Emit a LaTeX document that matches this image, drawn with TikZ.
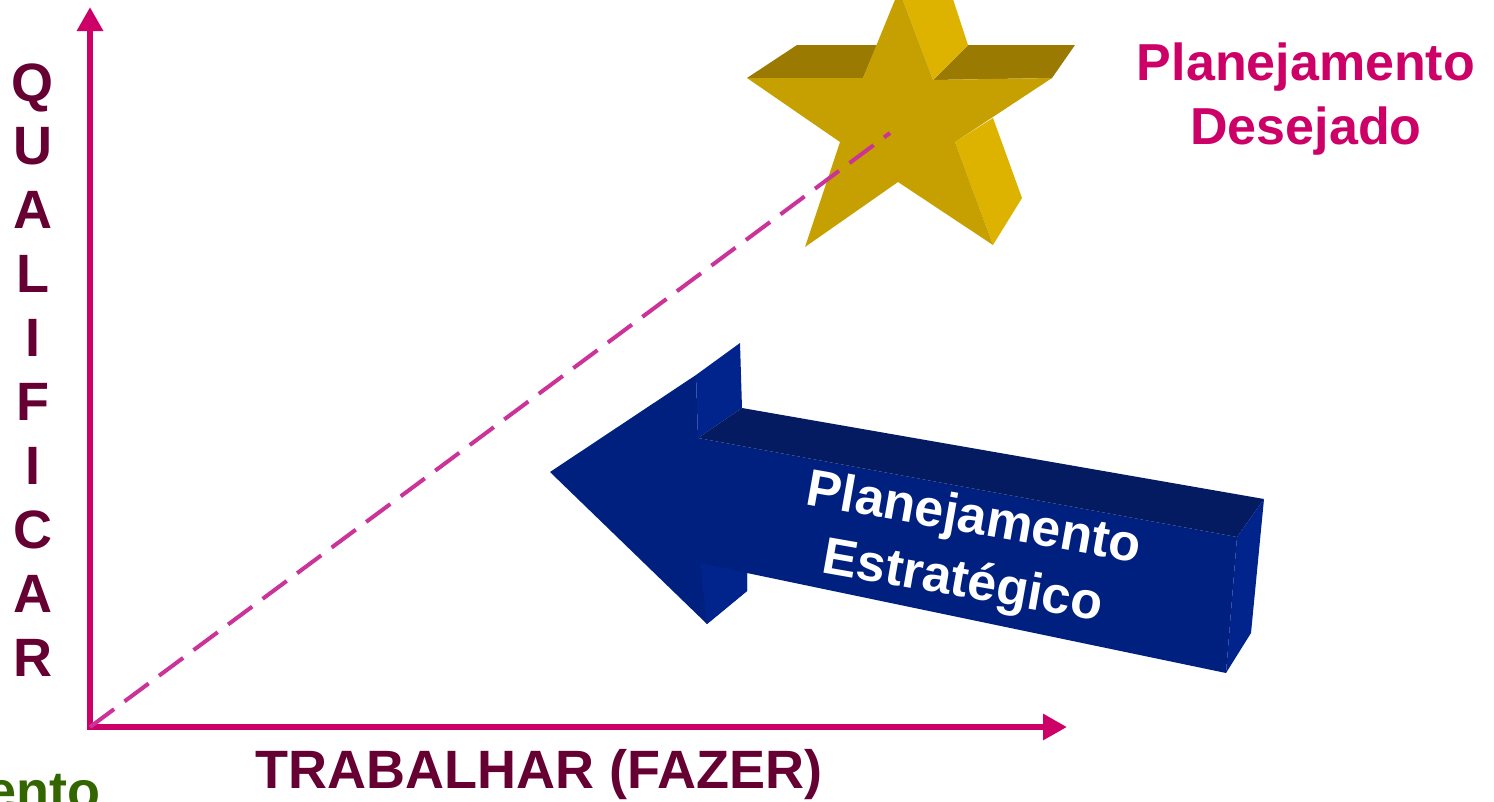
\documentclass[tikz,border=0pt]{standalone}
\usepackage{fontspec}
\setmainfont{Liberation Sans}
\usetikzlibrary{arrows.meta}
\definecolor{cEixo}{RGB}{204,0,102}
\definecolor{cTraco}{RGB}{204,51,153}
\definecolor{cVinho}{RGB}{102,0,51}
\definecolor{cVerde}{RGB}{51,102,0}
\definecolor{ouroFrente}{RGB}{197,160,0}
\definecolor{ouroTopo}{RGB}{154,122,0}
\definecolor{ouroLado}{RGB}{221,179,0}
\definecolor{azulFrente}{RGB}{0,32,128}
\definecolor{azulTopo}{RGB}{4,27,97}
\definecolor{azulLado}{RGB}{0,36,140}
\tikzset{
  eixo/.style={draw=cEixo, line width=6.5pt, line cap=rect, -{Triangle[length=24pt,width=25pt]}},
  diagonal/.style={draw=cTraco, line width=4pt, dash pattern=on 30pt off 13pt},
  letra/.style={text=cVinho, inner sep=0pt, anchor=base, font=\fontsize{54}{54}\selectfont\bfseries},
  rotulo/.style={inner sep=0pt, align=center, font=\fontsize{52}{64}\selectfont\bfseries},
}

\begin{document}
\begin{tikzpicture}[x=1pt,y=-1pt]
	\useasboundingbox (0,0) rectangle (1494,801);
	\clip (0,0) rectangle (1494,801);

	\coordinate (origem) at (90,727);
	\coordinate (topoy) at (90,7);
	\coordinate (fimx) at (1067,727);
	\coordinate (estrela) at (890,133);

	\fill[ouroTopo] (747,78) -- (797,45) -- (877,45) -- (863,78) -- cycle;
	\fill[ouroTopo] (933,80) -- (968,45) -- (1075,45) -- (1052,78) -- cycle;
	\fill[ouroLado] (899,-10) -- (950,-10) -- (968,45) -- (933,80) -- cycle;
	\fill[ouroLado] (955,142) -- (993,118) -- (1022,198) -- (993,245) -- cycle;
	\fill[ouroFrente] (899,-10) -- (933,80) -- (1052,78) -- (955,142) -- (993,245)
		-- (898,182) -- (805,247) -- (840,142) -- (747,78) -- (863,78) -- cycle;

	\draw[eixo] (origem) -- (topoy);
	\draw[eixo] (origem) -- (fimx);
	\draw[diagonal] (origem) -- (estrela);

	\fill[azulFrente] (550,472) -- (696,375) -- (698,438) -- (1237,537) -- (1226,673)
		-- (747,573) -- (747,591) -- (707,624) -- cycle;
	\fill[azulLado] (696,375) -- (740,343) -- (742,408) -- (698,438) -- cycle;
	\fill[azulLado] (700,563) -- (747,573) -- (747,591) -- (707,624) -- cycle;
	\fill[azulTopo] (698,438) -- (742,408) -- (1264,499) -- (1237,537) -- cycle;
	\fill[azulLado] (1237,537) -- (1264,499) -- (1251,633) -- (1226,673) -- cycle;

	\node[rotulo, text=white, rotate=-10] (estrategico) at (968,552) {Planejamento\\Estratégico};
	\node[rotulo, text=cEixo, anchor=north] (desejado) at (1306,43) {Planejamento\\Desejado};

	\foreach \l [count=\i] in {Q,U,A,L,I,F,I,C,A,R}
		\node[letra] (q\i) at (33, 101+63.9*\i-63.9) {\l};
	\node[letra] (trabalhar) at (539,788) {TRABALHAR (FAZER)};
	\node[letra, text=cVerde, anchor=base east] (ento) at (101,809) {ento};
\end{tikzpicture}
\end{document}
